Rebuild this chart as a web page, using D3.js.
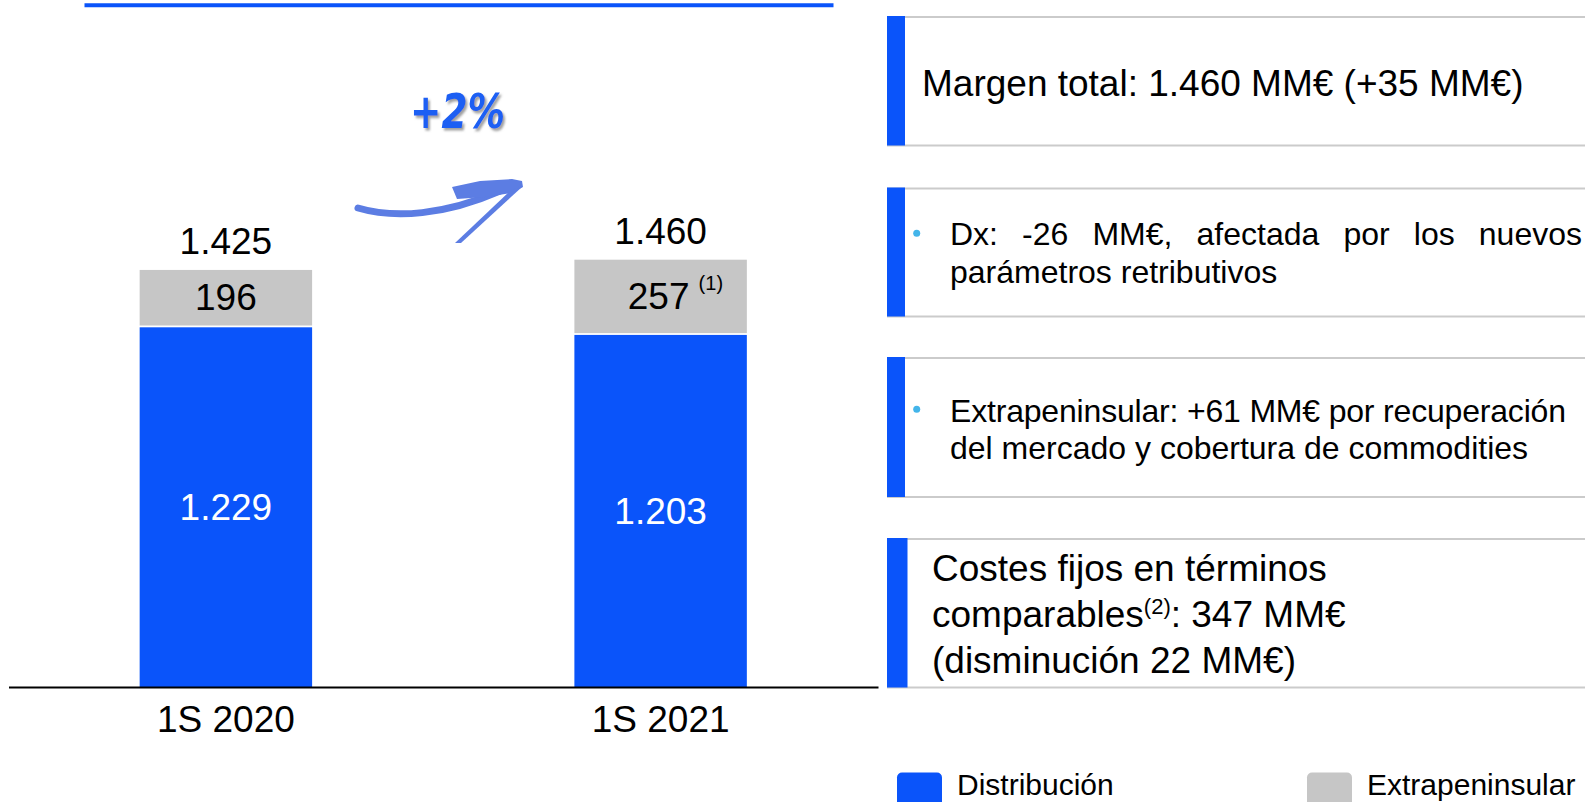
<!DOCTYPE html>
<html>
<head>
<meta charset="utf-8">
<script src="https://cdn.jsdelivr.net/npm/d3@7"></script>
<style>
  body { margin: 0; background: #fff; }
  svg { display: block; font-family: "Liberation Sans", Arial, sans-serif; }
</style>
</head>
<body>
<div class="chart"></div>
<script>
// values (MM€)
var categories = ["1S 2020", "1S 2021"];
var distribucion = [1229, 1203];
var extrapeninsular = [196, 257];
var totals = [1425, 1460];
var footnotes = ["", "(1)"];
var series = ["Distribución", "Extrapeninsular"];
var growthLabel = "+2%";

var boxTitle = "Margen total: 1.460 MM€ (+35 MM€)";
var boxDx = ["Dx: -26 MM€, afectada por los nuevos", "parámetros retributivos"];
var boxExtra = ["Extrapeninsular: +61 MM€ por recuperación", "del mercado y cobertura de commodities"];
var boxCostes = ["Costes fijos en términos", "comparables", "(2)", ": 347 MM€", "(disminución 22 MM€)"];

var blue = "#0a54fa", grey = "#c6c6c6", lineGrey = "#cbcbcb";
var es = d3.formatLocale({decimal: ",", thousands: ".", grouping: [3], currency: ["", "€"]});
var fmt = es.format(",d");

var svg = d3.select(".chart").append("svg")
    .attr("width", 1585)
    .attr("height", 802);

var x = d3.scaleBand()
    .domain(categories)
    .range([8.5, 878])
    .paddingInner(0.6033)
    .paddingOuter(0.3017);

var y = d3.scaleLinear()
    .domain([0, 1500])
    .range([687, 248]);

// top rule
svg.append("line")
    .attr("x1", 84.5).attr("x2", 833.5)
    .attr("y1", 5.3).attr("y2", 5.3)
    .attr("stroke", blue).attr("stroke-width", 4);

// bars
var rows = categories.map(function(c, i) {
  return {cat: c, d: distribucion[i], e: extrapeninsular[i], t: totals[i], note: footnotes[i]};
});

var bars = svg.append("g").selectAll("g").data(rows).enter().append("g");

bars.append("rect")
    .attr("x", function(d) { return x(d.cat); })
    .attr("width", x.bandwidth())
    .attr("y", function(d) { return y(d.d); })
    .attr("height", function(d) { return y(0) - y(d.d); })
    .attr("fill", blue);

bars.append("rect")
    .attr("x", function(d) { return x(d.cat); })
    .attr("width", x.bandwidth())
    .attr("y", function(d) { return y(d.d + d.e); })
    .attr("height", function(d) { return y(d.d) - y(d.d + d.e) - 1.8; })
    .attr("fill", grey);

bars.append("text")
    .attr("x", function(d) { return x(d.cat) + x.bandwidth() / 2; })
    .attr("y", function(d) { return (y(d.d) + y(0)) / 2 + 13; })
    .attr("text-anchor", "middle")
    .attr("font-size", 37)
    .attr("fill", "#fff")
    .text(function(d) { return fmt(d.d); });

bars.append("text")
    .attr("x", function(d) { return x(d.cat) + x.bandwidth() / 2 - (d.note ? 2 : 0); })
    .attr("y", function(d) { return (y(d.d + d.e) + y(d.d)) / 2 + 11.5; })
    .attr("text-anchor", "middle")
    .attr("font-size", 37)
    .attr("fill", "#000")
    .text(function(d) { return fmt(d.e); });

bars.filter(function(d) { return d.note; }).append("text")
    .attr("x", function(d) { return x(d.cat) + x.bandwidth() / 2 + 38; })
    .attr("y", function(d) { return y(d.d + d.e) + 30; })
    .attr("font-size", 20)
    .text(function(d) { return d.note; });

bars.append("text")
    .attr("x", function(d) { return x(d.cat) + x.bandwidth() / 2; })
    .attr("y", function(d) { return y(d.t) - 16; })
    .attr("text-anchor", "middle")
    .attr("font-size", 37)
    .text(function(d) { return fmt(d.t); });

// category axis
var xAxis = d3.axisBottom(x).tickSize(0).tickSizeOuter(0).tickPadding(18.5);
var gx = svg.append("g")
    .attr("transform", "translate(0," + y(0) + ")")
    .call(xAxis);
gx.select(".domain").attr("stroke", "#000").attr("stroke-width", 2.2);
gx.selectAll("text")
    .attr("font-size", 37)
    .attr("font-family", "\"Liberation Sans\", Arial, sans-serif")
    .attr("fill", "#000");

// growth arrow
var defs = svg.append("defs");
var sh = defs.append("filter").attr("id", "shadow")
    .attr("x", "-20%").attr("y", "-20%").attr("width", "140%").attr("height", "140%");
sh.append("feDropShadow")
    .attr("dx", 2).attr("dy", 2.5).attr("stdDeviation", 1.2)
    .attr("flood-color", "#777").attr("flood-opacity", 0.7);

svg.append("text")
    .attr("x", 410)
    .attr("y", 127.5)
    .attr("font-family", "\"DejaVu Sans\", sans-serif")
    .attr("font-weight", "bold")
    .attr("font-style", "italic")
    .attr("font-size", 48)
    .attr("textLength", 95)
    .attr("lengthAdjust", "spacingAndGlyphs")
    .attr("fill", "#1b5ef3")
    .attr("filter", "url(#shadow)")
    .text(growthLabel);

var arrow = svg.append("g").attr("fill", "#4b6fe0").attr("opacity", 0.9);
arrow.append("path")
    .attr("d", "M358,208 C395,219 445,215 500,191")
    .attr("fill", "none")
    .attr("stroke", "#4b6fe0")
    .attr("stroke-width", 7)
    .attr("stroke-linecap", "round");
arrow.append("path")
    .attr("d", "M452,187 L480,181 L512,179 L522,181 L523,187 L512,193 L485,197 L457,199 Z");
arrow.append("path")
    .attr("d", "M511,190 L522,187 L461,243 L455,243 Z");

// right panel boxes
var boxes = [
  {top: 17, bottom: 145.5, barW: 18},
  {top: 188.5, bottom: 316.5, barW: 18},
  {top: 358, bottom: 497, barW: 18},
  {top: 539, bottom: 687.5, barW: 20.5}
];

var panel = svg.append("g");
boxes.forEach(function(b) {
  panel.append("line")
      .attr("x1", 887).attr("x2", 1585)
      .attr("y1", b.top).attr("y2", b.top)
      .attr("stroke", lineGrey).attr("stroke-width", 2);
  panel.append("line")
      .attr("x1", 887).attr("x2", 1585)
      .attr("y1", b.bottom).attr("y2", b.bottom)
      .attr("stroke", lineGrey).attr("stroke-width", 2);
  panel.append("rect")
      .attr("x", 887).attr("y", b.top - 1)
      .attr("width", b.barW).attr("height", b.bottom - b.top + 1)
      .attr("fill", blue);
});

panel.append("text")
    .attr("x", 922).attr("y", 95.5)
    .attr("font-size", 37)
    .text(boxTitle);

// justified first line of the Dx box
function justify(str, x0, x1, yy, size) {
  var words = str.split(" ");
  var g = panel.append("g");
  var nodes = words.map(function(w) {
    return g.append("text").attr("y", yy).attr("font-size", size).text(w);
  });
  var widths = nodes.map(function(n) { return n.node().getComputedTextLength(); });
  var gap = (x1 - x0 - d3.sum(widths)) / (words.length - 1);
  var cx = x0;
  nodes.forEach(function(n, i) {
    n.attr("x", cx);
    cx += widths[i] + gap;
  });
}

panel.append("circle").attr("cx", 916.7).attr("cy", 233.3).attr("r", 3.5).attr("fill", "#43b5ea");
justify(boxDx[0], 950, 1582, 245, 32);
panel.append("text").attr("x", 950).attr("y", 282.5).attr("font-size", 32).text(boxDx[1]);

panel.append("circle").attr("cx", 916.7).attr("cy", 409.3).attr("r", 3.5).attr("fill", "#43b5ea");
panel.selectAll(".extra").data(boxExtra).enter().append("text")
    .attr("x", 950)
    .attr("y", function(d, i) { return 421.5 + i * 37.5; })
    .attr("font-size", 32)
    .attr("textLength", function(d, i) { return i === 0 ? 616 : null; })
    .text(function(d) { return d; });

panel.append("text").attr("x", 932).attr("y", 581).attr("font-size", 37).text(boxCostes[0]);
var l2 = panel.append("text").attr("x", 932).attr("y", 627).attr("font-size", 37);
l2.append("tspan").text(boxCostes[1]);
l2.append("tspan").attr("font-size", 22).attr("dy", -13).text(boxCostes[2]);
l2.append("tspan").attr("dy", 13).text(boxCostes[3]);
panel.append("text").attr("x", 932).attr("y", 673).attr("font-size", 37).text(boxCostes[4]);

// legend (pulled up a little so the labels stay inside the frame)
var legend = svg.append("g").selectAll("g").data(series).enter().append("g")
    .attr("transform", function(d, i) { return "translate(" + (897 + i * 410) + ",772.5)"; });
legend.append("rect")
    .attr("width", 45).attr("height", 34).attr("rx", 5)
    .attr("fill", function(d, i) { return i === 0 ? blue : grey; });
legend.append("text")
    .attr("x", 60).attr("y", 22.5)
    .attr("font-size", 30)
    .text(function(d) { return d; });
</script>
</body>
</html>
